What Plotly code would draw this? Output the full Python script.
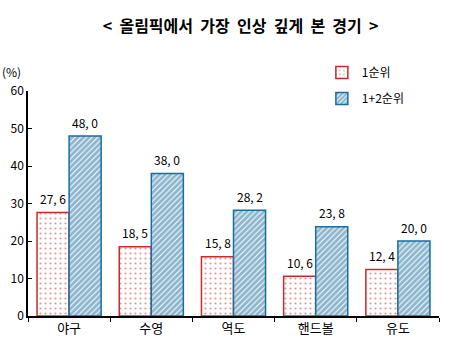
import plotly.graph_objects as go

categories = ["야구", "수영", "역도", "핸드볼", "유도"]
first = [27.6, 18.5, 15.8, 10.6, 12.4]
first_second = [48.0, 38.0, 28.2, 23.8, 20.0]
series_names = ["1순위", "1+2순위"]
y_ticks = [0, 10, 20, 30, 40, 50, 60]
title_text = "< 올림픽에서 가장 인상 깊게 본 경기 >"

RED = "#CC2A2A"
BLUE = "#1A6E9E"
FONT = "Noto Sans CJK KR, DejaVu Sans, sans-serif"

def fmt(v):
    return f"{v:.1f}".replace(".", ", ")

fig = go.Figure()
fig.add_trace(go.Bar(
    x=categories, y=first, name=series_names[0], legendgroup="a",
    marker=dict(color="white", line=dict(color=RED, width=1.5),
                pattern=dict(shape=".", fgcolor=RED, bgcolor="white", size=5, solidity=0.15)),
))
fig.add_trace(go.Bar(
    x=categories, y=first_second, name=series_names[1], legendgroup="b",
    marker=dict(color="white", line=dict(color=BLUE, width=1.5),
                pattern=dict(shape="/", fgcolor=BLUE, bgcolor="white", size=4, solidity=0.75)),
))

annotations = []
for i, c in enumerate(categories):
    annotations.append(dict(x=c, y=first[i], text=fmt(first[i]), xref="x", yref="y",
                            xshift=-16, yshift=14, showarrow=False, yanchor="middle",
                            font=dict(size=12, color="black", family=FONT)))
    annotations.append(dict(x=c, y=first_second[i], text=fmt(first_second[i]), xref="x", yref="y",
                            xshift=16, yshift=14, showarrow=False, yanchor="middle",
                            font=dict(size=12, color="black", family=FONT)))
annotations.append(dict(x=-0.04, y=1.085, xref="paper", yref="paper", text="(%)",
                        showarrow=False, xanchor="center", yanchor="middle",
                        font=dict(size=12, color="black", family=FONT)))

fig.update_layout(
    width=454, height=351,
    margin=dict(l=28, r=15, t=91, b=35),
    paper_bgcolor="white", plot_bgcolor="white",
    barmode="group", bargap=0.22, bargroupgap=0,
    title=dict(text=title_text.replace(" ", "\u00a0 "), x=0.53, xanchor="center",
               y=0.925, yanchor="middle",
               font=dict(size=16, color="black", family=FONT, weight="bold")),
    font=dict(family=FONT, size=12, color="black"),
    legend=dict(x=0.715, y=1.147, xanchor="left", yanchor="top", tracegroupgap=7,
                font=dict(size=12, family=FONT), bgcolor="rgba(0,0,0,0)"),
    annotations=annotations,
    xaxis=dict(showline=True, linecolor="black", linewidth=1.5, ticks="outside",
               tickson="boundaries", ticklen=4, tickcolor="black", showgrid=False,
               tickfont=dict(size=13, family=FONT)),
    yaxis=dict(range=[0, 60], tickvals=y_ticks, showline=True, linecolor="black",
               linewidth=1.5, ticks="inside", ticklen=4, tickcolor="black",
               showgrid=False, zeroline=False, tickfont=dict(size=12, family=FONT)),
)

fig.write_html("out.html")
